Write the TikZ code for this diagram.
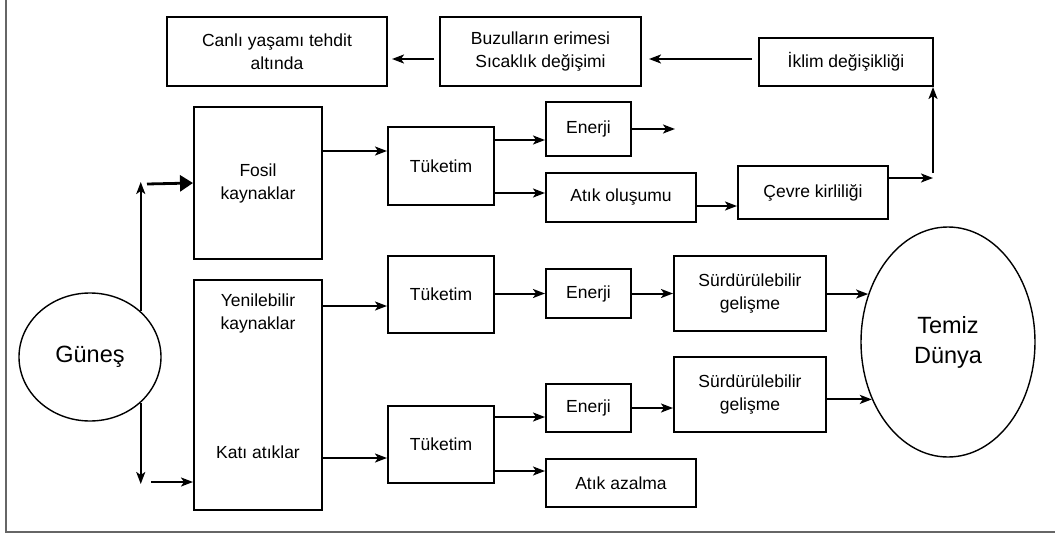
\documentclass[tikz,border=0pt]{standalone}
\usepackage{fontspec}
\setmainfont{Liberation Sans}
\usetikzlibrary{arrows.meta,shapes.geometric}

\begin{document}
\begin{tikzpicture}[x=1pt,y=-1pt,
  kutu/.style={draw,line width=2pt,align=center,inner sep=0pt,font=\fontsize{17.5}{23}\selectfont},
  metin/.style={align=center,inner sep=0pt,font=\fontsize{17.5}{23}\selectfont},
  elips/.style={draw,ellipse,line width=1.4pt,inner sep=0pt,align=center,font=\fontsize{23.5}{30}\selectfont},
  ok/.style={line width=2pt,-{Stealth[length=12pt,width=9pt,inset=3pt]}},
  buyukok/.style={line width=2.8pt,-{Triangle[length=13pt,width=16pt]}}]
			%%%%% START %%%%%
			\useasboundingbox (0,0) rectangle (1055,535);
			\draw[line width=1.2pt, color=black!60] (6,0) -- (6,532) -- (1055,532);
			
			\node[kutu, minimum width=220pt, minimum height=69pt] (canli) at (277,51.5) {Canlı yaşamı tehdit\\altında};
			\node[kutu, minimum width=201pt, minimum height=69pt] (buzul) at (540.5,51.5) {Buzulların erimesi\\Sıcaklık değişimi};
			\node[kutu, minimum width=174pt, minimum height=48pt] (iklim) at (846,62) {İklim değişikliği};
			
			\node[elips, minimum width=142pt, minimum height=128pt] (gunes) at (90,357) {Güneş};
			\node[elips, minimum width=174pt, minimum height=230pt] (temiz) at (948,342) {Temiz\\Dünya};
			
			\node[kutu, minimum width=128pt, minimum height=152pt] (fosil) at (258,183) {Fosil\\kaynaklar};
			\node[kutu, minimum width=128pt, minimum height=230pt] (yenil) at (258,395) {};
			\node[metin] (yenilyazi) at (258,313) {Yenilebilir\\kaynaklar};
			\node[metin] (kati) at (258,452) {Katı atıklar};
			
			\node[kutu, minimum width=106pt, minimum height=78pt] (tuk1) at (441,166) {Tüketim};
			\node[kutu, minimum width=106pt, minimum height=77pt] (tuk2) at (441,294.5) {Tüketim};
			\node[kutu, minimum width=106pt, minimum height=77pt] (tuk3) at (441,444.5) {Tüketim};
			
			\node[kutu, minimum width=85pt, minimum height=54pt] (enerji1) at (588.5,129) {Enerji};
			\node[kutu, minimum width=150pt, minimum height=49pt] (atik1) at (621,197.5) {Atık oluşumu};
			\node[kutu, minimum width=150pt, minimum height=53pt] (cevre) at (813,192.5) {Çevre kirliliği};
			\node[kutu, minimum width=85pt, minimum height=49pt] (enerji2) at (588.5,293.5) {Enerji};
			\node[kutu, minimum width=152pt, minimum height=75pt] (surd1) at (750,293.5) {Sürdürülebilir\\gelişme};
			\node[kutu, minimum width=85pt, minimum height=48pt] (enerji3) at (588.5,408) {Enerji};
			\node[kutu, minimum width=152pt, minimum height=75pt] (surd2) at (750,394.5) {Sürdürülebilir\\gelişme};
			\node[kutu, minimum width=150pt, minimum height=48pt] (atik2) at (621,483) {Atık azalma};
			
			\coordinate (gyukari) at (140,182);
			\coordinate (gasagi) at (140,484);
			\coordinate (kose) at (933,178);
			
			% ust sira
			\draw[ok] ([xshift=-5pt,yshift=-7.5pt]buzul.west) -- ([xshift=4pt]canli.east |- 0,59);
			\draw[ok] ([xshift=-6pt]iklim.west |- 0,59) -- ([xshift=7pt]buzul.east |- 0,59);
			
			% gunes
			\draw[ok] (gunes.42) -- (gunes.42 |- gyukari);
			\draw[buyukok] ([xshift=7pt,yshift=-2pt]gyukari) -- (fosil.west);
			\draw[ok] (gunes.-42) -- (gunes.-42 |- gasagi);
			\draw[ok] ([xshift=11pt,yshift=2pt]gasagi) -- (yenil.west |- 0,482);
			
			% fosil kaynaklar
			\draw[ok] (fosil.east |- 0,151) -- (tuk1.west |- 0,151);
			\draw[ok] (tuk1.east |- 0,140) -- (enerji1.west |- 0,140);
			\draw[ok] (tuk1.east |- 0,193) -- (atik1.west |- 0,193);
			\draw[ok] (enerji1.east) -- ++(43,0);
			\draw[ok] (atik1.east |- 0,206) -- (cevre.west |- 0,206);
			\draw[ok] (cevre.east |- kose) -- (kose);
			\draw[ok] ([yshift=5pt]kose) -- (kose |- iklim.south);
			
			% yenilebilir kaynaklar
			\draw[ok] (yenil.east |- 0,306) -- (tuk2.west |- 0,306);
			\draw[ok] (tuk2.east |- enerji2) -- (enerji2.west);
			\draw[ok] (enerji2.east) -- (surd1.west |- enerji2.east);
			\draw[ok] (surd1.east |- temiz.149) -- (temiz.149);
			
			% kati atiklar
			\draw[ok] (yenil.east |- 0,458) -- (tuk3.west |- 0,458);
			\draw[ok] (tuk3.east |- 0,417) -- (enerji3.west |- 0,417);
			\draw[ok] (tuk3.east |- 0,471) -- (atik2.west |- 0,471);
			\draw[ok] (enerji3.east) -- (surd2.west |- enerji3.east);
			\draw[ok] (surd2.east |- temiz.-143) -- (temiz.-143);
			%%%%% END %%%%%
\end{tikzpicture}
\end{document}
